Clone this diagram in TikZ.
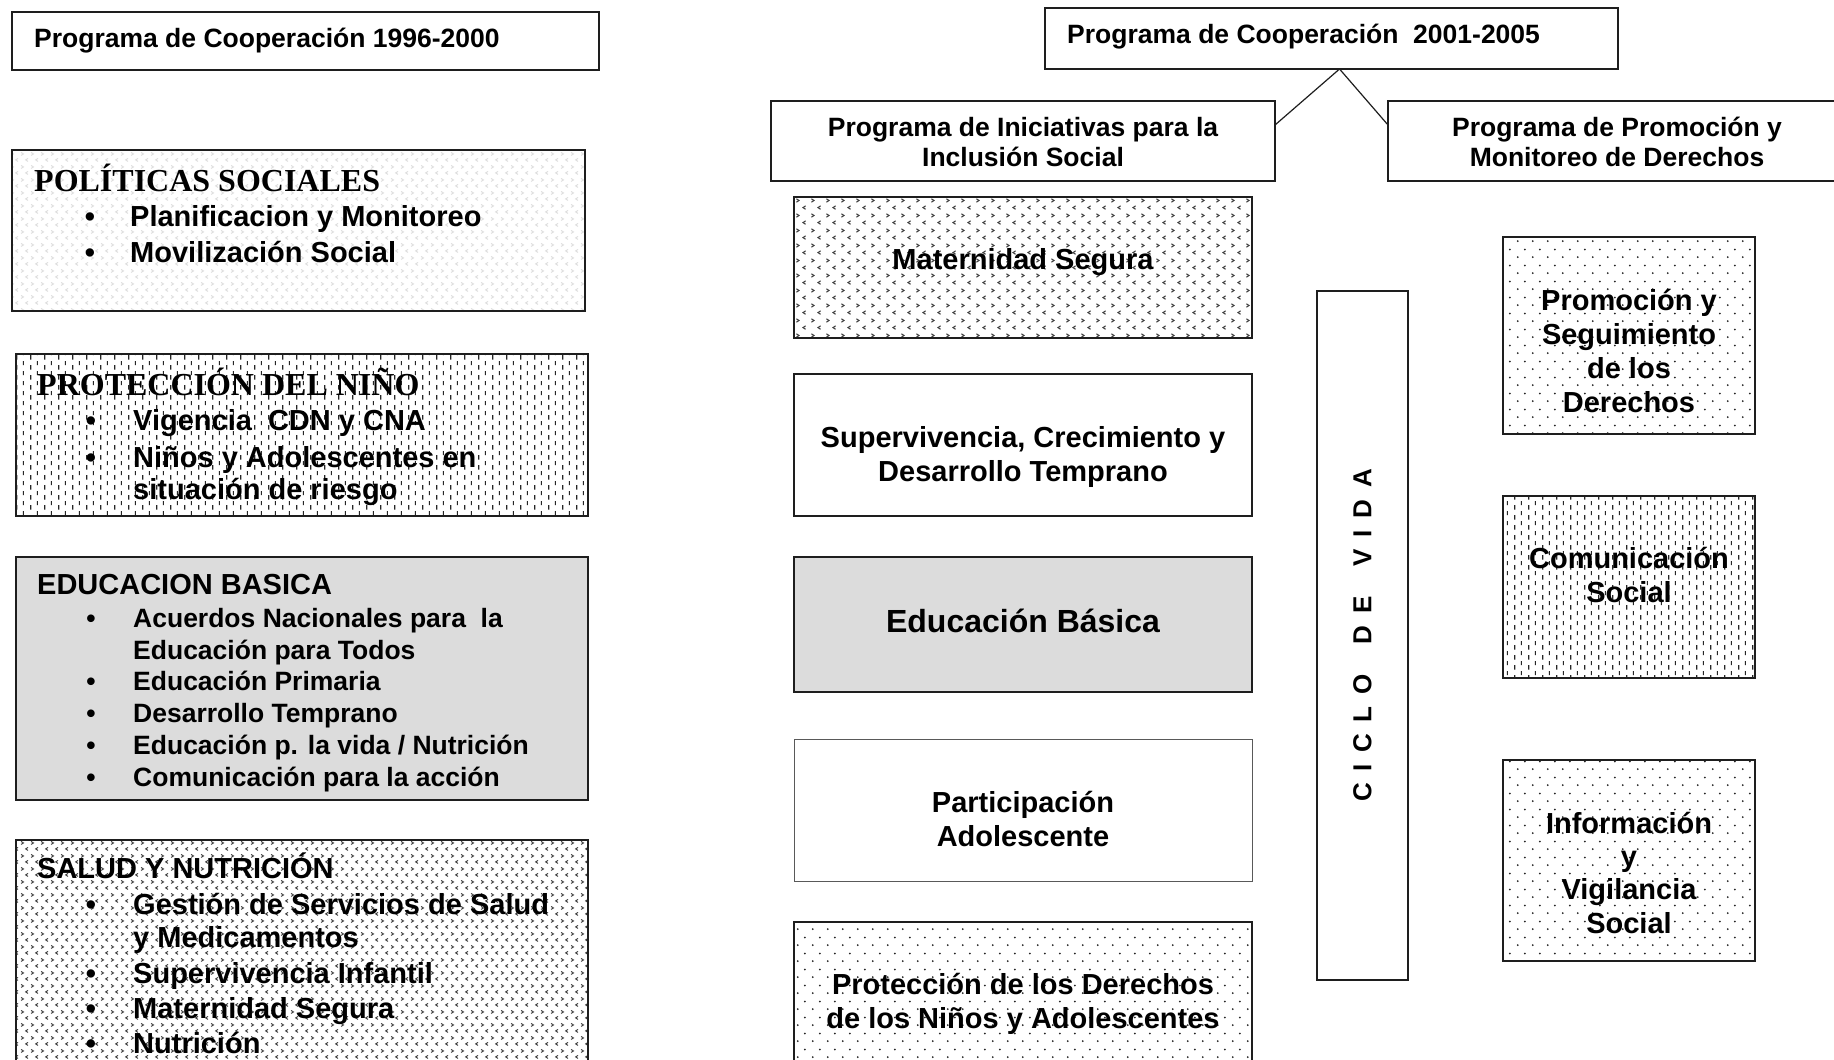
\documentclass[tikz,border=0pt]{standalone}
\usepackage{fontspec}
\setmainfont{Liberation Sans}
\newfontfamily\timesfam{Liberation Serif}
\usetikzlibrary{patterns,calc}
\newcommand\myfs[1]{\fontsize{#1}{#1}\selectfont}
\newcommand\lsp{\kern11.6pt}

\pgfdeclarepatternformonly{mydots}{\pgfqpoint{0pt}{0pt}}{\pgfqpoint{15pt}{16pt}}{\pgfqpoint{15pt}{16pt}}{%
  \pgfpathcircle{\pgfqpoint{3pt}{3pt}}{1.05pt}%
  \pgfpathcircle{\pgfqpoint{10.5pt}{11pt}}{1.05pt}%
  \pgfusepath{fill}}

\pgfdeclarepatternformonly{vdash}{\pgfqpoint{0pt}{0pt}}{\pgfqpoint{14pt}{10pt}}{\pgfqpoint{14pt}{10pt}}{%
  \pgfsetlinewidth{1.25pt}%
  \pgfpathmoveto{\pgfqpoint{3pt}{0.4pt}}\pgfpathlineto{\pgfqpoint{3pt}{5.2pt}}%
  \pgfpathmoveto{\pgfqpoint{10pt}{5.2pt}}\pgfpathlineto{\pgfqpoint{10pt}{9.8pt}}%
  \pgfusepath{stroke}}

% sparse chevrons (Maternidad)
\pgfdeclarepatternformonly{chevA}{\pgfqpoint{0pt}{0pt}}{\pgfqpoint{15pt}{15.2pt}}{\pgfqpoint{15pt}{15.2pt}}{%
  \pgfsetlinewidth{1.1pt}%
  \pgfpathmoveto{\pgfqpoint{1.5pt}{12.8pt}}\pgfpathlineto{\pgfqpoint{4.3pt}{11pt}}\pgfpathlineto{\pgfqpoint{1.5pt}{9.2pt}}%
  \pgfpathmoveto{\pgfqpoint{11.3pt}{5.4pt}}\pgfpathlineto{\pgfqpoint{8.5pt}{3.6pt}}\pgfpathlineto{\pgfqpoint{11.3pt}{1.8pt}}%
  \pgfusepath{stroke}}

% denser chevrons (Salud, Politicas)
\pgfdeclarepatternformonly{chevB}{\pgfqpoint{0pt}{0pt}}{\pgfqpoint{10pt}{13pt}}{\pgfqpoint{10pt}{13pt}}{%
  \pgfsetlinewidth{1pt}%
  \pgfpathmoveto{\pgfqpoint{1.2pt}{11.3pt}}\pgfpathlineto{\pgfqpoint{3.8pt}{9.7pt}}\pgfpathlineto{\pgfqpoint{1.2pt}{8.1pt}}%
  \pgfpathmoveto{\pgfqpoint{8.8pt}{4.9pt}}\pgfpathlineto{\pgfqpoint{6.2pt}{3.3pt}}\pgfpathlineto{\pgfqpoint{8.8pt}{1.7pt}}%
  \pgfusepath{stroke}}

\definecolor{boxgray}{HTML}{DCDCDC}
\definecolor{edge}{HTML}{1E1E1E}

\tikzset{
  box/.style={draw=edge, line width=1.8pt, inner sep=0pt, outer sep=0pt, rectangle},
  ctr/.style={inner sep=0pt, anchor=base},
  lft/.style={inner sep=0pt, anchor=base west},
  conn/.style={draw=edge, line width=1.2pt},
  f29/.style={font=\bfseries\myfs{29}},
  f26/.style={font=\bfseries\myfs{26.5}},
  f32/.style={font=\bfseries\myfs{32}},
  ft/.style={font=\timesfam\bfseries\myfs{32}},
}

\begin{document}
\begin{tikzpicture}[x=1pt,y=-1pt]
\useasboundingbox (0,0) rectangle (1834,1060);
\fill[white] (0,0) rectangle (1834,1060);
\clip (0,0) rectangle (1834,1060);

% ---------- left column boxes ----------
\node[box, minimum width=587pt, minimum height=58pt] (A) at (305.5,41) {};
\node[box, pattern=chevB, pattern color=black!13, minimum width=573pt, minimum height=161pt] (POL) at (298.5,230.5) {};
\node[box, pattern=vdash, pattern color=black!85, minimum width=572pt, minimum height=162pt] (PROT) at (302,435) {};
\node[box, fill=boxgray, minimum width=572pt, minimum height=243pt] (EDU) at (302,678.5) {};
\node[box, pattern=chevB, pattern color=black!75, minimum width=572pt, minimum height=240pt] (SAL) at (302,960) {};

% ---------- right part boxes ----------
\node[box, minimum width=573pt, minimum height=61pt] (B) at (1331.5,38.5) {};
\node[box, minimum width=504pt, minimum height=80pt] (C) at (1023,141) {};
\node[box, minimum width=458pt, minimum height=80pt] (D) at (1617,141) {};
\node[box, pattern=chevA, pattern color=black!75, minimum width=458pt, minimum height=141pt] (MAT) at (1023,267.5) {};
\node[box, minimum width=458pt, minimum height=142pt] (SUP) at (1023,445) {};
\node[box, fill=boxgray, minimum width=458pt, minimum height=135pt] (EDB) at (1023,624.5) {};
\node[box, draw=black!65, line width=1pt, minimum width=458pt, minimum height=142pt] (PAR) at (1023,810) {};
\node[box, pattern=mydots, pattern color=black!85, minimum width=458pt, minimum height=158pt] (PRD) at (1023,1001) {};
\node[box, minimum width=91pt, minimum height=689pt] (CIC) at (1362.5,635.5) {};
\node[box, pattern=mydots, pattern color=black!85, minimum width=252pt, minimum height=197pt] (PSD) at (1629,335.5) {};
\node[box, pattern=vdash, pattern color=black!85, minimum width=252pt, minimum height=182pt] (COM) at (1629,587) {};
\node[box, pattern=mydots, pattern color=black!85, minimum width=252pt, minimum height=201pt] (INF) at (1629,860.5) {};

% ---------- connectors ----------
\coordinate (apex) at ($(B.south west)!0.514!(B.south east)$);
\coordinate (cpt) at ($(C.north east)!0.3!(C.south east)$);
\coordinate (dpt) at ($(D.north west)!0.3!(D.south west)$);
\draw[conn] (apex) -- (cpt);
\draw[conn] (apex) -- (dpt);

% ---------- titles ----------
\node[lft, f26] (At) at (34,47) {Programa de Cooperación 1996-2000};
\node[lft, f26] (Bt) at (1067,43) {Programa de Cooperación\ \ 2001-2005};
\node[ctr, f26] (Ct1) at (1023,136) {Programa de Iniciativas para la};
\node[ctr, f26] (Ct2) at (1023,166) {Inclusión Social};
\node[ctr, f26] (Dt1) at (1617,136) {Programa de Promoción y};
\node[ctr, f26] (Dt2) at (1617,166) {Monitoreo de Derechos};

% ---------- POLITICAS SOCIALES ----------
\node[lft, ft] (polt) at (34,191) {POLÍTICAS SOCIALES};
\node[ctr, f29] (polb1) at (90,226) {\textbullet};
\node[lft, f29] (poli1) at (130,226) {Planificacion y Monitoreo};
\node[ctr, f29] (polb2) at (90,262) {\textbullet};
\node[lft, f29] (poli2) at (130,262) {Movilización Social};

% ---------- PROTECCION DEL NINO ----------
\node[lft, ft] (prott) at (37,395) {PROTECCIÓN DEL NIÑO};
\node[ctr, f29] (protb1) at (91,430) {\textbullet};
\node[lft, f29] (proti1) at (133,430) {Vigencia\ \ CDN y CNA};
\node[ctr, f29] (protb2) at (91,467) {\textbullet};
\node[lft, f29] (proti2) at (133,467) {Niños y Adolescentes en};
\node[lft, f29] (proti3) at (133,499) {situación de riesgo};

% ---------- EDUCACION BASICA ----------
\begin{scope}
\clip (16,557) rectangle (588,792);
\node[lft, f29] (edut) at (37,594) {EDUCACION BASICA};
\node[ctr, f26] (edub1) at (91,627) {\textbullet};
\node[lft, f26] (edui1) at (133,627) {Acuerdos Nacionales para\ \ la};
\node[lft, f26] (edui1b) at (133,659) {Educación para Todos};
\node[ctr, f26] (edub2) at (91,690) {\textbullet};
\node[lft, f26] (edui2) at (133,690) {Educación Primaria};
\node[ctr, f26] (edub3) at (91,722) {\textbullet};
\node[lft, f26] (edui3) at (133,722) {Desarrollo Temprano};
\node[ctr, f26] (edub4) at (91,754) {\textbullet};
\node[lft, f26] (edui4) at (133,754) {Educación p. la vida / Nutrición};
\node[ctr, f26] (edub5) at (91,786) {\textbullet};
\node[lft, f26] (edui5) at (133,786) {Comunicación para la acción};
\end{scope}

% ---------- SALUD Y NUTRICION ----------
\node[lft, f29] (salt) at (37,878) {SALUD Y NUTRICIÓN};
\node[ctr, f29] (salb1) at (91,914) {\textbullet};
\node[lft, f29] (sali1) at (133,914) {Gestión de Servicios de Salud};
\node[lft, f29] (sali1b) at (133,947) {y Medicamentos};
\node[ctr, f29] (salb2) at (91,983) {\textbullet};
\node[lft, f29] (sali2) at (133,983) {Supervivencia Infantil};
\node[ctr, f29] (salb3) at (91,1018) {\textbullet};
\node[lft, f29] (sali3) at (133,1018) {Maternidad Segura};
\node[ctr, f29] (salb4) at (91,1053) {\textbullet};
\node[lft, f29] (sali4) at (133,1053) {Nutrición};

% ---------- middle column texts ----------
\node[ctr, f29] (matt) at (1023,269) {Maternidad Segura};
\node[ctr, f29] (supt1) at (1023,447) {Supervivencia, Crecimiento y};
\node[ctr, f29] (supt2) at (1023,481) {Desarrollo Temprano};
\node[ctr, f32] (edbt) at (1023,632) {Educación Básica};
\node[ctr, f29] (part1) at (1023,812) {Participación};
\node[ctr, f29] (part2) at (1023,846) {Adolescente};
\node[ctr, f29] (prdt1) at (1023,994) {Protección de los Derechos};
\node[ctr, f29] (prdt2) at (1023,1028) {de los Niños y Adolescentes};

% ---------- ciclo de vida ----------
\node[inner sep=0pt, rotate=90, font=\bfseries\myfs{26}] (cict) at (CIC.center) {C\lsp I\lsp C\lsp L\lsp O\lsp\ \lsp D\lsp E\lsp\ \lsp V\lsp I\lsp D\lsp A};

% ---------- right column texts ----------
\node[ctr, f29] (psd1) at (1629,310) {Promoción y};
\node[ctr, f29] (psd2) at (1629,344) {Seguimiento};
\node[ctr, f29] (psd3) at (1629,378) {de los};
\node[ctr, f29] (psd4) at (1629,412) {Derechos};
\node[ctr, f29] (com1) at (1629,568) {Comunicación};
\node[ctr, f29] (com2) at (1629,602) {Social};
\node[ctr, f29] (inf1) at (1629,833) {Información};
\node[ctr, f29] (inf2) at (1629,866) {y};
\node[ctr, f29] (inf3) at (1629,899) {Vigilancia};
\node[ctr, f29] (inf4) at (1629,933) {Social};
\end{tikzpicture}
\end{document}
